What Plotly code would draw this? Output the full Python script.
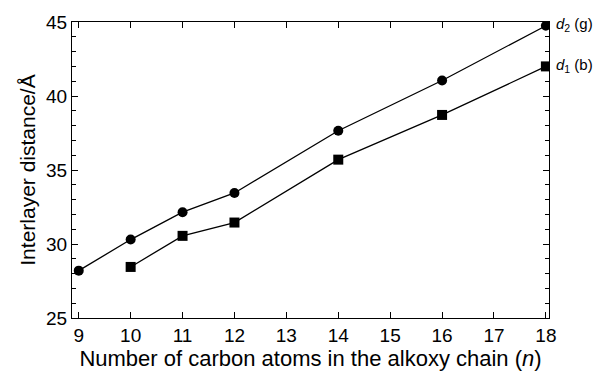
import plotly.graph_objects as go

# Interlayer distances versus alkoxy chain length
n_d2 = [9, 10, 11, 12, 14, 16, 18]
d2_g = [28.2, 30.3, 32.15, 33.45, 37.65, 41.05, 44.75]

n_d1 = [10, 11, 12, 14, 16, 18]
d1_b = [28.45, 30.55, 31.45, 35.7, 38.72, 42.0]

x_ticks = [9, 10, 11, 12, 13, 14, 15, 16, 17, 18]
y_ticks = [25, 30, 35, 40, 45]

FONT = "Liberation Sans, Arial, Helvetica, sans-serif"

fig = go.Figure()
fig.add_trace(go.Scatter(
    x=n_d2, y=d2_g, mode="lines+markers",
    line=dict(color="black", width=1.3),
    marker=dict(symbol="circle", size=10, color="black"),
    showlegend=False,
))
fig.add_trace(go.Scatter(
    x=n_d1, y=d1_b, mode="lines+markers",
    line=dict(color="black", width=1.3),
    marker=dict(symbol="square", size=10, color="black"),
    showlegend=False,
))

fig.add_annotation(x=1.0, xref="paper", y=d2_g[-1], yref="y",
                   text="<i>d</i><sub>2</sub> (g)", showarrow=False,
                   xanchor="left", xshift=5, yshift=1,
                   font=dict(family=FONT, size=15, color="black"))
fig.add_annotation(x=1.0, xref="paper", y=d1_b[-1], yref="y",
                   text="<i>d</i><sub>1</sub> (b)", showarrow=False,
                   xanchor="left", xshift=5, yshift=1,
                   font=dict(family=FONT, size=15, color="black"))

axis_common = dict(
    showline=True, linecolor="black", linewidth=1.2, mirror="ticks",
    ticks="inside", ticklen=6, tickwidth=1, tickcolor="black",
    showgrid=False, zeroline=False,
    tickfont=dict(family=FONT, size=19, color="black"),
)

fig.update_xaxes(
    range=[8.87, 18.06], tickmode="array", tickvals=x_ticks,
    title=dict(text="Number of carbon atoms in the alkoxy chain (<i>n</i>)",
               font=dict(family=FONT, size=22, color="black"), standoff=0),
    **axis_common,
)
fig.update_yaxes(
    range=[25, 45], tickmode="array", tickvals=y_ticks,
    minor=dict(dtick=1, ticks="inside", ticklen=4, tickcolor="black", tickwidth=1),
    title=dict(text="Interlayer distance/Å",
               font=dict(family=FONT, size=21, color="black"), standoff=4),
    **axis_common,
)

fig.update_layout(
    width=595, height=373,
    margin=dict(l=72, r=46, t=18, b=49),
    paper_bgcolor="white", plot_bgcolor="white",
)

fig.write_html("out.html")
